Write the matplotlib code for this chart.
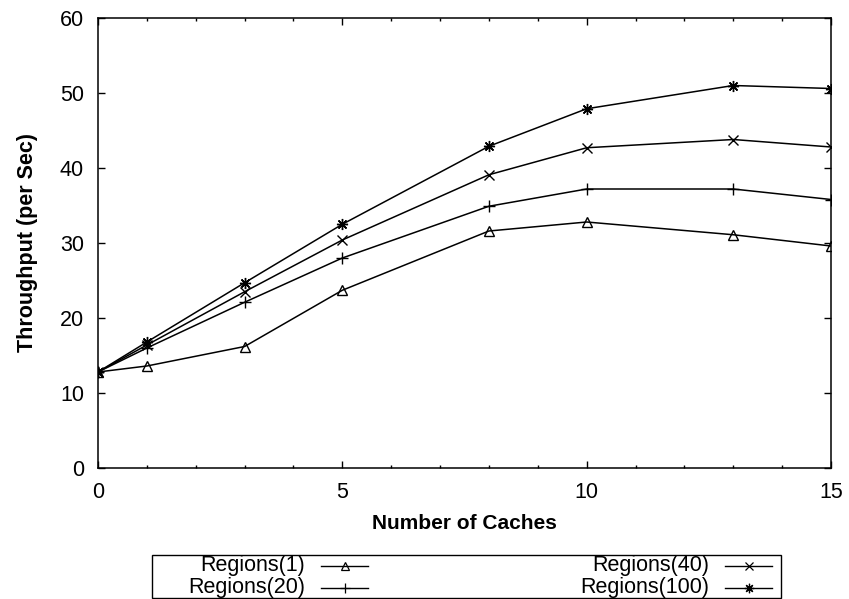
import matplotlib.pyplot as plt
from matplotlib.lines import Line2D
from matplotlib.patches import Rectangle
from matplotlib.ticker import MultipleLocator

plt.rcParams['font.family'] = ['Liberation Sans', 'DejaVu Sans']

caches = [0, 1, 3, 5, 8, 10, 13, 15]
regions_1 = [12.8, 13.6, 16.2, 23.7, 31.6, 32.8, 31.1, 29.6]
regions_20 = [12.8, 16.0, 22.1, 28.0, 34.9, 37.2, 37.2, 35.8]
regions_40 = [12.8, 16.4, 23.5, 30.4, 39.1, 42.7, 43.8, 42.8]
regions_100 = [12.8, 16.8, 24.7, 32.5, 42.9, 47.9, 51.0, 50.6]

labels = ['Regions(1)', 'Regions(20)', 'Regions(40)', 'Regions(100)']
series = [regions_1, regions_20, regions_40, regions_100]
# gnuplot point types: triangle, plus, cross, star
markers = [dict(marker='^', markersize=7, markerfacecolor='none'),
           dict(marker='+', markersize=8),
           dict(marker='x', markersize=7),
           dict(marker=(8, 2, 0), markersize=8)]

fig = plt.figure(figsize=(8.49, 5.99), dpi=100)
ax = fig.add_axes([98 / 849, 1 - 468 / 599, 733 / 849, 450 / 599])

for vals, m in zip(series, markers):
    ax.plot(caches, vals, color='black', linewidth=1.1,
            markeredgewidth=1.0, **m)

ax.set_xlim(0, 15)
ax.set_ylim(0, 60)
ax.xaxis.set_major_locator(MultipleLocator(5))
ax.xaxis.set_minor_locator(MultipleLocator(1))
ax.yaxis.set_major_locator(MultipleLocator(10))
ax.tick_params(which='both', direction='in', top=True, right=True,
               labelsize=15.5, pad=10, width=1.0)
ax.tick_params(which='major', length=5)
ax.tick_params(which='minor', length=2.5)
for s in ax.spines.values():
    s.set_linewidth(1.1)

ax.set_xlabel('Number of Caches', fontsize=15, fontweight='bold', labelpad=8)
ax.set_ylabel('Throughput (per Sec)', fontsize=15.5, fontweight='bold', labelpad=16)

# legend box below the plot, labels right-aligned before the line sample
W, H = 849, 599
fig.add_artist(Rectangle((152 / W, 1 - 598 / H), 629 / W, 43 / H,
                         transform=fig.transFigure, fill=False,
                         edgecolor='black', linewidth=1.0))
slots = [(305, 566), (305, 588), (709, 566), (709, 588)]
for (tx, ty), lab, m in zip(slots, labels, markers):
    fig.text(tx / W, 1 - ty / H, lab, ha='right', va='center', fontsize=15.5)
    fig.add_artist(Line2D([(tx + 16) / W, (tx + 63) / W],
                          [1 - ty / H, 1 - ty / H],
                          transform=fig.transFigure, color='black',
                          linewidth=1.0))
    mk = dict(m)
    mk['markersize'] = mk['markersize'] * 0.85
    fig.add_artist(Line2D([(tx + 40) / W], [1 - ty / H],
                          transform=fig.transFigure, color='black',
                          linestyle='none', markeredgewidth=0.9, **mk))

fig.savefig('out.png', dpi=100)
